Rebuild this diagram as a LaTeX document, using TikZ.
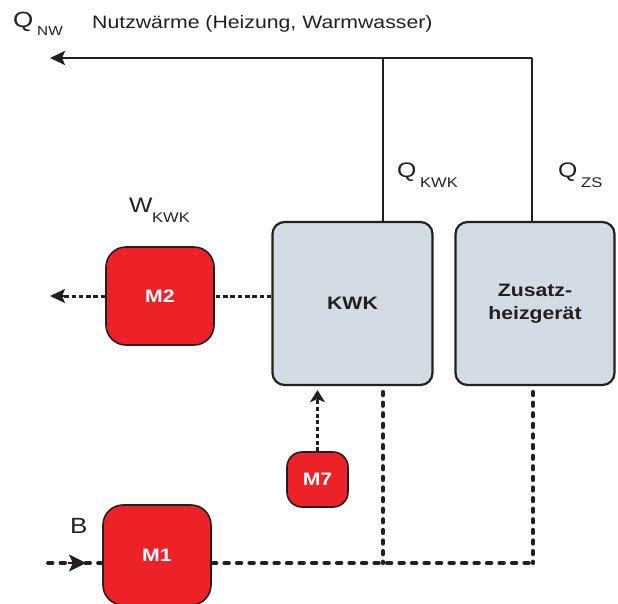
\documentclass[tikz,border=0pt]{standalone}
\usepackage{fontspec}
\setmainfont{Liberation Sans}[FakeStretch=1.18]
\usetikzlibrary{arrows.meta}
\definecolor{mred}{HTML}{ED2228}
\definecolor{boxfill}{HTML}{D3DBE4}
\definecolor{ink}{HTML}{231F20}
\begin{document}
\begin{tikzpicture}[x=1pt,y=-1pt,
  bigbox/.style={draw=ink, line width=2.2pt, fill=boxfill, rounded corners=12pt,
    minimum width=160pt, minimum height=163pt, inner sep=0pt,
    font=\fontsize{18}{23}\selectfont\bfseries, text=ink},
  mbox/.style={draw=ink, line width=1.6pt, fill=mred, inner sep=0pt,
    font=\fontsize{18}{22}\selectfont\bfseries, text=white},
  lbl/.style={anchor=base west, inner sep=0pt, text=ink},
  heat/.style={draw=ink, line width=2pt},
  tipA/.style={-{Stealth[length=15pt,width=14pt,inset=3pt]}},
  elec/.style={draw=ink, line width=3pt, dash pattern=on 4.5pt off 2.8pt},
  elecv/.style={draw=ink, line width=3.4pt, dash pattern=on 4pt off 2.7pt},
  fuelh/.style={draw=ink, line width=3.8pt, line cap=round, dash pattern=on 4.6pt off 7.9pt},
  fuelv/.style={draw=ink, line width=4.3pt, line cap=round, dash pattern=on 3pt off 7.6pt}]
\useasboundingbox (0,0) rectangle (618,603);
\fill[white] (0,0) rectangle (618,603);

% boxes
\node[bigbox] (kwk) at (352.5,303.5) {KWK};
\node[bigbox, align=center, minimum width=159pt] (zs) at (535,303.5) {Zusatz-\\heizgerät};
\node[mbox, minimum width=108pt, minimum height=98pt, rounded corners=20pt] (m2) at (160,296) {M2};
\node[mbox, minimum width=61pt, minimum height=55pt, rounded corners=15pt] (m7) at (317.5,479.5) {M7};
\node[mbox, minimum width=108pt, minimum height=100pt, rounded corners=20pt] (m1) at (157,555) {M1};

% labels
\node[lbl, font=\fontsize{22}{24}\selectfont] (qnw) at (13,27) {Q};
\node[lbl, font=\fontsize{13}{14}\selectfont] (qnws) at (37,35) {NW};
\node[lbl, font=\fontsize{18}{20}\selectfont] (nutz) at (92,28) {Nutzwärme (Heizung, Warmwasser)};
\node[lbl, font=\fontsize{21}{24}\selectfont] (qkwk) at (397,177) {Q};
\node[lbl, font=\fontsize{14}{16}\selectfont] (qkwks) at (420,187) {KWK};
\node[lbl, font=\fontsize{21}{24}\selectfont] (qzs) at (558,177) {Q};
\node[lbl, font=\fontsize{14}{16}\selectfont] (qzss) at (581,187) {ZS};
\node[lbl, font=\fontsize{21}{24}\selectfont] (w) at (129,212) {W};
\node[lbl, font=\fontsize{14}{16}\selectfont] (wkwk) at (152,222) {KWK};
\node[lbl, font=\fontsize{22}{24}\selectfont] (b) at (70,533) {B};

% heat lines (top)
\coordinate (nw) at (50,58);
\coordinate (t1) at (383,58);
\coordinate (t2) at (532,58);
\draw[heat, tipA] (t2) -- (nw);
\draw[heat] (kwk.north -| t1) -- (t1);
\draw[heat] (zs.north -| t2) -- (t2);

% electricity
\coordinate (wout) at (50,296);
\draw[elec] (kwk.west |- m2.east) -- (m2.east);
\draw[elec] (m2.west) -- ([xshift=12pt]wout);
\draw[ink, line width=2pt, tipA] ([xshift=14pt]wout) -- (wout);

% M7 to KWK
\draw[elecv] (m7.north) -- ([yshift=-12pt]m7.north |- kwk.south);
\draw[ink, line width=2pt, -{Stealth[length=12pt,width=15pt,inset=3pt]}] ([yshift=-16pt]m7.north |- kwk.south) -- ([yshift=-4pt]m7.north |- kwk.south);

% fuel
\coordinate (bin) at (48,563);
\coordinate (barr) at (86,563);
\coordinate (b1) at (383,563);
\coordinate (b2) at (533,563);
\draw[fuelh] (bin) -- (m1.west |- bin);
\draw[ink, line width=2.5pt, -{Stealth[length=17pt,width=17pt,inset=4pt]}] ([xshift=-18pt]barr) -- (barr);
\draw[fuelh] (m1.east |- bin) -- (b2);
\draw[fuelv] ([yshift=-6pt]kwk.south -| b1) -- (b1);
\draw[fuelv] ([yshift=-6pt]zs.south -| b2) -- (b2);
\end{tikzpicture}
\end{document}
